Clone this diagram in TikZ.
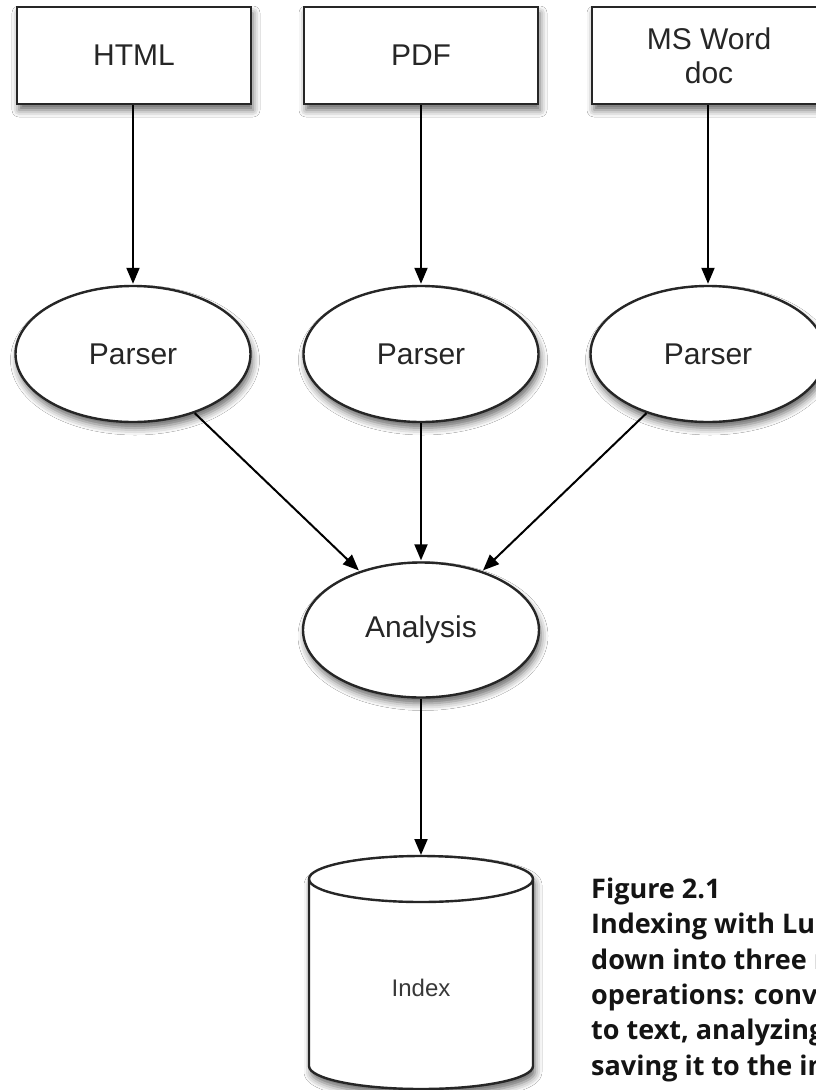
\documentclass[tikz,border=0pt]{standalone}
\usepackage{fontspec}
\setmainfont{Liberation Sans}
\newfontfamily\capfont{Open Sans}
\usetikzlibrary{arrows.meta,shapes.geometric,shadows.blur}

\tikzset{
  soft/.style={blur shadow={shadow xshift=2pt, shadow yshift=-6pt,
      shadow blur radius=7pt, shadow opacity=60}},
  docbox/.style={draw=black!85, line width=2.4pt, fill=white, soft,
      minimum width=234pt, minimum height=97pt, inner sep=0pt,
      font=\fontsize{30}{34}\selectfont, text=black!85, align=center},
  proc/.style={ellipse, draw=black!85, line width=2.4pt, fill=white, soft,
      minimum width=235pt, minimum height=136pt, inner sep=0pt,
      font=\fontsize{30}{34}\selectfont, text=black!85},
  flow/.style={draw=black, line width=2pt,
      -{Triangle[length=16pt,width=13pt]}, shorten >=1pt},
}

\begin{document}
\begin{tikzpicture}[x=1pt,y=-1pt]
  \useasboundingbox (0,0) rectangle (816,1090);
  \clip (0,0) rectangle (816,1090);
  \fill[white] (0,0) rectangle (816,1090);

  % source documents
  \node[docbox] (html) at (134,55.5) {HTML};
  \node[docbox] (pdf)  at (421,55.5) {PDF};
  \node[docbox] (word) at (709,55.5) {MS Word\\doc};

  % parsers
  \node[proc] (p1) at (133,354) {Parser};
  \node[proc] (p2) at (421,354) {Parser};
  \node[proc] (p3) at (708,354) {Parser};

  % analysis
  \node[proc, minimum width=236pt, minimum height=135pt] (an) at (421,630) {Analysis};

  % index store (cylinder)
  \path[draw=black!85, line width=2.4pt, fill=white, soft]
    (309,879) -- (309,1066)
    arc[start angle=180, end angle=0, x radius=112, y radius=23]
    -- (533,879)
    arc[start angle=0, end angle=-180, x radius=112, y radius=23] -- cycle;
  \draw[black!85, line width=2.4pt]
    (309,879) arc[start angle=180, end angle=0, x radius=112, y radius=23];
  \coordinate (idxtop) at (421,856);
  \node[font=\fontsize{24}{28}\selectfont, text=black!78] (index) at (421,988) {Index};

  % connectors
  \draw[flow] (html.south -| p1) -- (p1);
  \draw[flow] (pdf.south -| p2) -- (p2);
  \draw[flow] (word.south -| p3) -- (p3);
  \draw[flow] (p1) -- (an);
  \draw[flow] (p2) -- (an);
  \draw[flow] (p3) -- (an);
  \draw[flow] (an) -- (idxtop);

  % caption (base anchor sits on the last line)
  \node[anchor=base west, align=left, inner sep=0pt, text=black!92,
        font=\capfont\bfseries\fontsize{27}{35.3}\selectfont] (cap) at (591,1075)
    {Figure 2.1\\
     Indexing with Lucene breaks\\
     down into three main\\
     operations: converting data\\
     to text, analyzing it, and\\
     saving it to the index.};
\end{tikzpicture}
\end{document}
